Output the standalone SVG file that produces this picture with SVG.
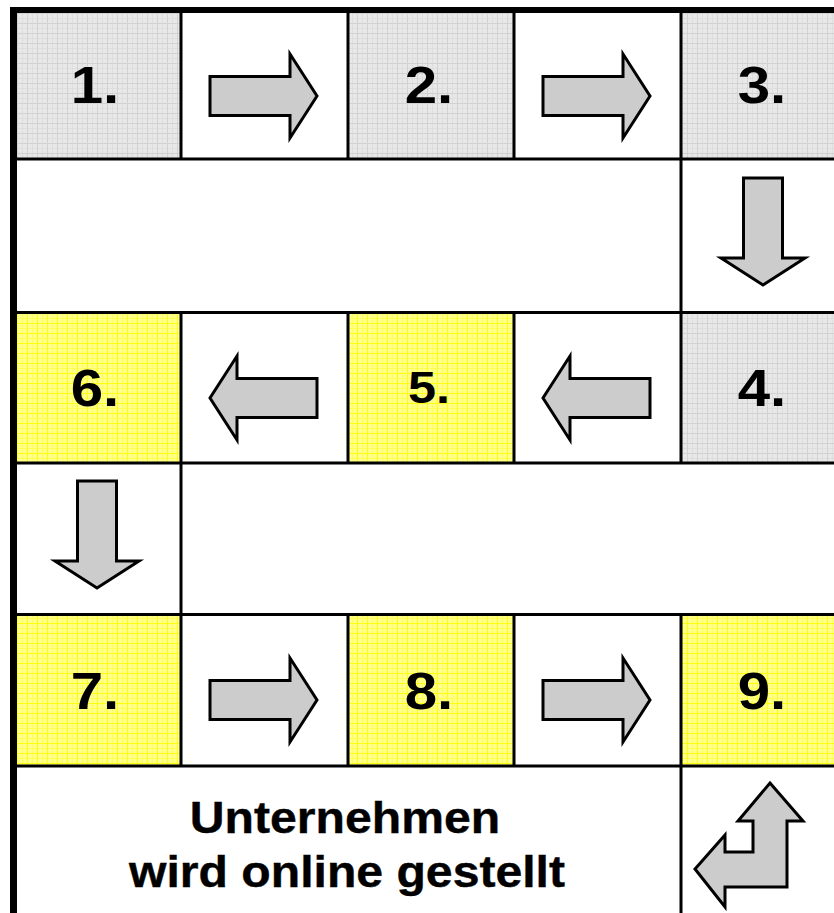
<svg xmlns="http://www.w3.org/2000/svg" width="834" height="913" viewBox="0 0 834 913">
<defs>
<pattern id="gp" width="10" height="10" patternUnits="userSpaceOnUse" x="17" y="13">
<rect width="10" height="10" fill="#e8e8e8"/>
<path d="M0 5.5H10M5.5 0V10" stroke="#dedede" stroke-width="1"/>
<path d="M0 0.5H10M0.5 0V10" stroke="#d2d2d2" stroke-width="1"/>
</pattern>
<pattern id="yp" width="10" height="10" patternUnits="userSpaceOnUse" x="17" y="13">
<rect width="10" height="10" fill="#ffff8c"/>
<path d="M0 5.5H10M5.5 0V10" stroke="#ffff5a" stroke-width="1"/>
<path d="M0 0.5H10M0.5 0V10" stroke="#ffff10" stroke-width="1"/>
</pattern>
<path id="ra" d="M0,-19.5 H80 V-42 L107,0 L80,42 V19.5 H0 Z"/>
</defs>
<style>
.g{fill:url(#gp)}
.y{fill:url(#yp)}
.n{font-family:"Liberation Sans",Arial,sans-serif;font-weight:bold;font-size:52px;fill:#000;text-anchor:middle}
.t{font-family:"Liberation Sans",Arial,sans-serif;font-weight:bold;font-size:45px;fill:#000;stroke:#000;stroke-width:0.4;text-anchor:middle}
.ar{fill:#cccccc;stroke:#000;stroke-width:3;stroke-linejoin:miter}
.ln{stroke:#000;stroke-width:3;fill:none}
</style>
<rect width="834" height="913" fill="#fff"/>

<g id="step1"><rect class="g" x="14" y="10" width="167" height="149"/><text class="n" transform="translate(95,103) scale(1.12,1)">1.</text></g>
<g id="step2"><rect class="g" x="348" y="10" width="166" height="149"/><text class="n" transform="translate(429,103) scale(1.12,1)">2.</text></g>
<g id="step3"><rect class="g" x="681" y="10" width="153" height="149"/><text class="n" transform="translate(762,103) scale(1.12,1)">3.</text></g>
<g id="step4"><rect class="g" x="681" y="312" width="153" height="151"/><text class="n" transform="translate(762,406) scale(1.12,1)">4.</text></g>
<g id="step5"><rect class="y" x="348" y="312" width="166" height="151"/><text class="n" style="font-size:45px" transform="translate(429,403) scale(1.12,1)">5.</text></g>
<g id="step6"><rect class="y" x="14" y="312" width="167" height="151"/><text class="n" transform="translate(95,406) scale(1.12,1)">6.</text></g>
<g id="step7"><rect class="y" x="14" y="614" width="167" height="152"/><text class="n" transform="translate(95,709) scale(1.12,1)">7.</text></g>
<g id="step8"><rect class="y" x="348" y="614" width="166" height="152"/><text class="n" transform="translate(429,709) scale(1.12,1)">8.</text></g>
<g id="step9"><rect class="y" x="681" y="614" width="153" height="152"/><text class="n" transform="translate(762,709) scale(1.12,1)">9.</text></g>
<g id="final">
<text class="t" transform="translate(345,833) scale(1.07,1)">Unternehmen</text>
<text class="t" transform="translate(347,887) scale(1.07,1)">wird online gestellt</text>
</g>

<g id="grid">
<path class="ln" d="M14 159H834M14 312.5H834M14 463H834M14 614.5H834M14 766H834"/>
<path class="ln" d="M181 10V159M181 312V766M348 10V159M348 312V463M348 614V766M514 10V159M514 312V463M514 614V766M681 10V463M681 614V913"/>
<rect x="10" y="7" width="824" height="6" fill="#000"/>
<rect x="10" y="7" width="7" height="906" fill="#000"/>
</g>

<g id="connectors">
<use href="#ra" class="ar" transform="translate(210,96)"/>
<use href="#ra" class="ar" transform="translate(543,96)"/>
<use href="#ra" class="ar" transform="translate(763,178) rotate(90)"/>
<use href="#ra" class="ar" transform="translate(650,398) scale(-1,1)"/>
<use href="#ra" class="ar" transform="translate(317,398) scale(-1,1)"/>
<use href="#ra" class="ar" transform="translate(97,481) rotate(90)"/>
<use href="#ra" class="ar" transform="translate(210,700)"/>
<use href="#ra" class="ar" transform="translate(543,700)"/>
<polygon class="ar" points="770,783 803,821 787,821 787,887 725,887 725,907 695,869 725,835 725,852 753,852 753,821 738,821"/>
</g>
</svg>
